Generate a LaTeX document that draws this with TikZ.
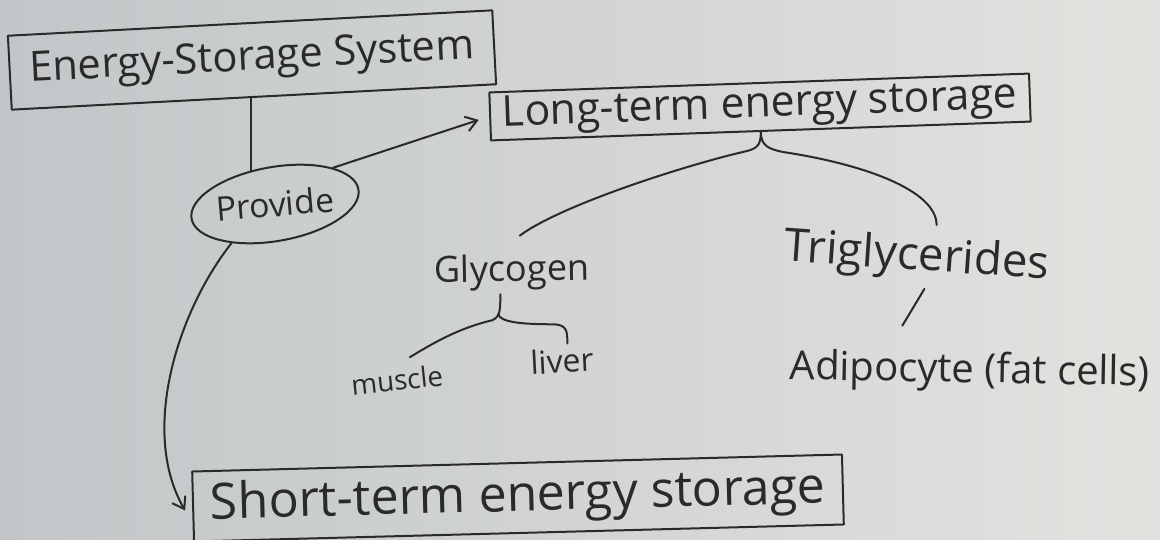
\documentclass[tikz,border=0pt]{standalone}
\usepackage{fontspec}
\usepackage{graphicx}
\setmainfont{Open Sans}
\usetikzlibrary{arrows.meta,calc,shapes.geometric}
\definecolor{ink}{RGB}{42,42,42}
\definecolor{paperL}{RGB}{194,198,200}
\definecolor{paperR}{RGB}{226,227,223}
\newcommand{\fitw}[2]{\resizebox{#1pt}{!}{#2}}
\begin{document}
\begin{tikzpicture}[x=1pt,y=-1pt,
  stroke/.style={draw=ink,line width=2pt,line cap=round,line join=round},
  box/.style={stroke,inner sep=0pt,text=ink},
  lbl/.style={text=ink,inner sep=0pt},
  barb/.style={-{Straight Barb[length=11pt,width=15pt,line width=2pt]}}]
\shade[left color=paperL,right color=paperR] (0,0) rectangle (1160,540);
\useasboundingbox (0,0) rectangle (1160,540);

% nodes
\node[box,rotate=3,minimum width=485pt,minimum height=74pt] (ess) at (252,60) {\fitw{445}{Energy-Storage System}};
\node[box,ellipse,rotate=10,minimum width=168pt,minimum height=74pt] (prov) at (275,204) {\rotatebox{-5}{\fitw{118}{Provide}}};
\node[box,rotate=2,minimum width=540pt,minimum height=48pt] (long) at (760,107) {\fitw{515}{Long-term energy storage}};
\node[lbl,rotate=1] (gly) at (512,272) {\fitw{155}{Glycogen}};
\node[lbl,rotate=-4] (tri) at (917,258) {\fitw{265}{Triglycerides}};
\node[lbl,rotate=6] (mus) at (397,380) {\fitw{92}{muscle}};
\node[lbl,rotate=3] (liv) at (562,361) {\fitw{63}{liver}};
\node[lbl,rotate=-1] (adi) at (970,372) {\fitw{360}{Adipocyte (fat cells)}};
\node[box,rotate=1.5,minimum width=650pt,minimum height=70pt] (short) at (518,498) {\fitw{615}{Short-term energy storage}};

% connectors
\draw[stroke] (prov.116) -- (prov.116 |- ess.south);
\draw[stroke,barb,shorten >=11pt] (prov.22) -- (long.west);
\draw[stroke,barb] (prov.212) .. controls +(-53,67) and +(-46,-80) .. ($(short.west)+(-7,4)$);

% brace under long-term storage
\draw[stroke] (long.south) .. controls +(0,14) and +(14,-3) .. ($(long.south)+(-18,20)$)
  .. controls +(-60,14) and +(40,-30) .. ($(gly.north)+(8,-18)$);
\draw[stroke] (long.south) .. controls +(0,14) and +(-14,-3) .. ($(long.south)+(22,20)$)
  .. controls +(80,12) and +(0,-35) .. ($(tri.north)+(18,-10)$);

% brace under glycogen
\draw[stroke] ($(gly.south)+(-12,4)$) .. controls +(0,16) and +(8,-4) .. ($(gly.south)+(-20,30)$)
  .. controls +(-35,8) and +(20,-12) .. ($(mus.north)+(14,-12)$);
\draw[stroke] ($(gly.south)+(-14,24)$) .. controls +(2,8) and +(-30,0) .. ($(gly.south)+(40,34)$)
  .. controls +(15,0) and +(0,-12) .. ($(liv.north)+(6,-5)$);

% slash from triglycerides to adipocyte
\draw[stroke] ($(tri.south)+(9,8)$) -- ($(adi.north)+(-68,-26)$);
\end{tikzpicture}
\end{document}
